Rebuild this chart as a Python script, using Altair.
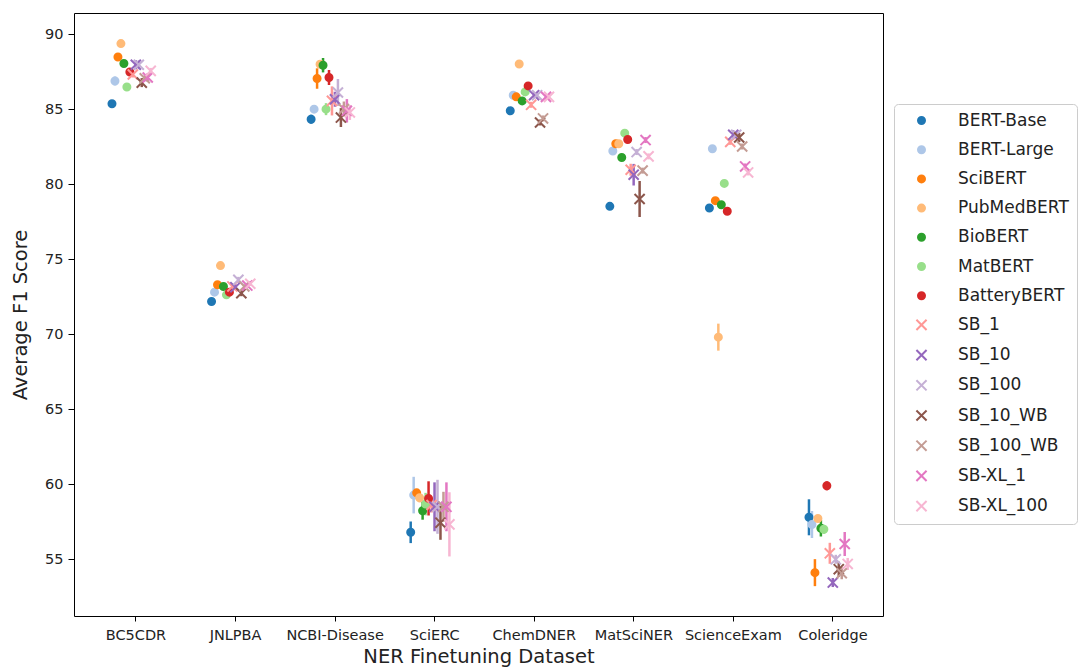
import altair as alt
import pandas as pd

datasets = ["BC5CDR", "JNLPBA", "NCBI-Disease", "SciERC", "ChemDNER",
            "MatSciNER", "ScienceExam", "Coleridge"]
models = ["BERT-Base", "BERT-Large", "SciBERT", "PubMedBERT", "BioBERT",
          "MatBERT", "BatteryBERT", "SB_1", "SB_10", "SB_100", "SB_10_WB",
          "SB_100_WB", "SB-XL_1", "SB-XL_100"]
colors = ["#1f77b4", "#aec7e8", "#ff7f0e", "#ffbb78", "#2ca02c", "#98df8a",
          "#d62728", "#ff9896", "#9467bd", "#c5b0d5", "#8c564b", "#c49c94",
          "#e377c2", "#f7b6d2"]
XPATH = "M-1.45,-1.45L1.45,1.45M-1.45,1.45L1.45,-1.45"
shapes = ["circle"] * 7 + [XPATH] * 7

mean_bc5cdr = [85.35, 86.87, 88.47, 89.36, 88.03, 86.47, 87.47, 87.30, 87.95, 87.95, 86.76, 87.05, 87.10, 87.54]
mean_jnlpba = [72.17, 72.79, 73.28, 74.56, 73.17, 72.61, 72.79, 73.17, 73.12, 73.61, 72.72, 73.17, 73.23, 73.35]
mean_ncbi = [84.32, 84.99, 87.03, 87.98, 87.92, 84.99, 87.10, 85.54, 85.65, 86.10, 84.43, 85.00, 84.88, 84.77]
mean_scierc = [56.78, 59.26, 59.41, 59.08, 58.22, 58.66, 59.04, 58.60, 58.48, 58.48, 57.42, 58.48, 58.48, 57.31]
mean_chemdner = [84.88, 85.92, 85.81, 88.00, 85.54, 86.14, 86.54, 85.28, 85.92, 85.92, 84.10, 84.37, 85.81, 85.81]
mean_matsciner = [78.51, 82.20, 82.68, 82.68, 81.77, 83.39, 82.97, 80.95, 80.62, 82.13, 79.00, 80.89, 82.93, 81.84]
mean_sciexam = [78.40, 82.35, 78.89, 69.79, 78.62, 80.04, 78.18, 82.81, 83.28, 83.28, 83.10, 82.50, 81.17, 80.77]
mean_coleridge = [57.78, 57.30, 54.09, 57.70, 57.05, 56.98, 59.88, 55.38, 53.43, 54.98, 54.32, 54.05, 56.00, 54.67]

err_bc5cdr = [0.10, 0.30, 0.10, 0.10, 0.10, 0.10, 0.20, 0.20, 0.30, 0.30, 0.30, 0.20, 0.30, 0.20]
err_jnlpba = [0.10, 0.15, 0.10, 0.10, 0.10, 0.10, 0.10, 0.15, 0.20, 0.20, 0.20, 0.15, 0.15, 0.15]
err_ncbi = [0.30, 0.15, 0.68, 0.15, 0.48, 0.40, 0.50, 0.97, 0.50, 0.90, 0.63, 0.50, 0.78, 0.50]
err_scierc = [0.72, 1.22, 0.20, 0.30, 0.60, 0.75, 1.14, 0.50, 1.63, 1.80, 1.14, 1.00, 1.63, 2.14]
err_chemdner = [0.10, 0.10, 0.10, 0.10, 0.10, 0.10, 0.10, 0.20, 0.20, 0.20, 0.20, 0.20, 0.20, 0.20]
err_matsciner = [0.15, 0.10, 0.10, 0.10, 0.10, 0.10, 0.10, 0.40, 0.72, 0.20, 1.20, 0.20, 0.20, 0.20]
err_sciexam = [0.10, 0.10, 0.10, 0.90, 0.10, 0.10, 0.10, 0.20, 0.30, 0.20, 0.30, 0.20, 0.20, 0.20]
err_coleridge = [1.20, 0.90, 0.90, 0.15, 0.55, 0.30, 0.30, 0.70, 0.30, 0.30, 0.50, 0.40, 0.80, 0.40]

means = [mean_bc5cdr, mean_jnlpba, mean_ncbi, mean_scierc, mean_chemdner,
         mean_matsciner, mean_sciexam, mean_coleridge]
errs = [err_bc5cdr, err_jnlpba, err_ncbi, err_scierc, err_chemdner,
        err_matsciner, err_sciexam, err_coleridge]

rows = []
for ds, mv, ev in zip(datasets, means, errs):
    for m, v, e in zip(models, mv, ev):
        rows.append({"dataset": ds, "model": m, "f1": v, "err": e})
df = pd.DataFrame(rows)

FONT = "DejaVu Sans"
yscale = alt.Scale(domain=[51.2, 91.4], nice=False, zero=False)

x_enc = alt.X("dataset:N", sort=datasets,
              scale=alt.Scale(type="band", paddingInner=0, paddingOuter=0.0625, align=0.98),
              axis=alt.Axis(labelAngle=0, title="NER Finetuning Dataset",
                            labelFontSize=14.5, titleFontSize=19.5, titleFontWeight="normal",
                            tickSize=5, labelPadding=7, titlePadding=6,
                            domain=False, ticks=True, tickColor="black",
                            labelColor="#222", titleColor="#222", grid=False))
xoff_enc = alt.XOffset("model:N", sort=models,
                       scale=alt.Scale(range=[24.3, 66.0], paddingInner=0, paddingOuter=0))

base = alt.Chart(df).transform_calculate(
    lo="datum.f1 - datum.err", hi="datum.f1 + datum.err", model_r="datum.model"
).encode(x=x_enc, xOffset=xoff_enc)

leg = alt.Legend(title=None, orient="none", legendX=820, legendY=91,
                 strokeColor="#cccccc", fillColor="white", labelColor="#222",
                 symbolStrokeWidth=2)

rules = base.mark_rule(strokeWidth=2.5).encode(
    y=alt.Y("lo:Q", scale=yscale),
    y2="hi:Q",
    color=alt.Color("model_r:N", sort=models, scale=alt.Scale(range=colors), legend=None),
)

points = base.mark_point(filled=True, strokeWidth=2, size=49, opacity=1).encode(
    y=alt.Y("f1:Q", scale=yscale,
            axis=alt.Axis(title="Average F1 Score", values=[55, 60, 65, 70, 75, 80, 85, 90],
                          labelFontSize=14.5, titleFontSize=19.5, titleFontWeight="normal",
                          tickSize=6, labelPadding=5, titlePadding=14, domain=False,
                          tickColor="black", labelColor="#222", titleColor="#222", grid=False)),
    fill=alt.Fill("model:N", scale=alt.Scale(domain=models, range=colors), legend=leg),
    stroke=alt.Stroke("model:N", scale=alt.Scale(domain=models, range=colors), legend=leg),
    shape=alt.Shape("model:N", scale=alt.Scale(domain=models, range=shapes), legend=leg),
)

chart = alt.layer(rules, points).properties(
    width=809, height=603,
    autosize=alt.AutoSizeParams(type="none"),
    padding={"left": 66, "top": 5, "right": 200, "bottom": 54},
    background="white",
).configure(font=FONT).configure_view(
    stroke="black", strokeWidth=1
).configure_legend(
    labelFontSize=17, labelFont=FONT,
    cornerRadius=4, padding=8, rowPadding=11.2,
    symbolSize=49, symbolOffset=11, labelOffset=28, symbolOpacity=1
)

chart.save("out.html", embed_options={"renderer": "svg", "actions": False})
